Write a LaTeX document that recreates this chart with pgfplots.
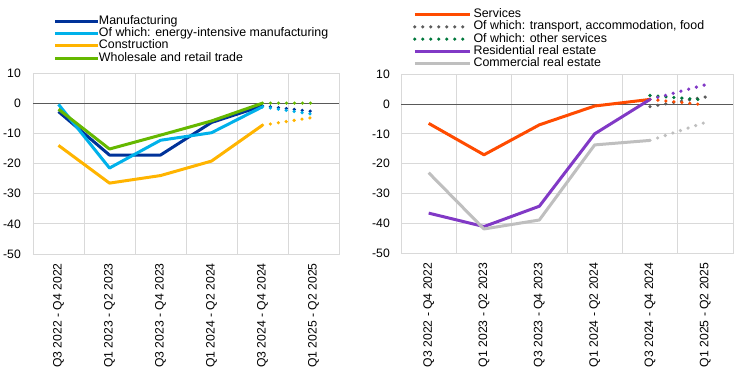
\documentclass[border=0pt]{standalone}
\usepackage{pgfplots}
\pgfplotsset{compat=1.18}
\usepackage{fontspec}
\setmainfont{Liberation Sans}
\definecolor{cManuf}{HTML}{003299}
\definecolor{cEnergy}{HTML}{00B1EA}
\definecolor{cConstr}{HTML}{FFB400}
\definecolor{cWhole}{HTML}{65B800}
\definecolor{cServ}{HTML}{FF4B00}
\definecolor{cTrans}{HTML}{5C5C5C}
\definecolor{cOther}{HTML}{00783C}
\definecolor{cResid}{HTML}{8139C6}
\definecolor{cComm}{HTML}{BFBFBF}
\definecolor{gridc}{HTML}{D9D9D9}
\definecolor{zeroc}{HTML}{595959}
\pgfplotsset{
  common/.style={
    scale only axis, xmin=-0.5, xmax=5.5, ymin=-50, ymax=10,
    xtick={0,...,5},
    xticklabels={Q3 2022 - Q4 2022, Q1 2023 - Q2 2023, Q3 2023 - Q4 2023, Q1 2024 - Q2 2024, Q3 2024 - Q4 2024, Q1 2025 - Q2 2025},
    minor xtick={0.5,1.5,2.5,3.5,4.5},
    ytick={-50,-40,...,10},
    xminorgrids=true, xmajorgrids=false, ymajorgrids=true,
    major tick length=0pt, minor tick length=0pt,
    grid style={draw=gridc, line width=0.75pt},
    minor grid style={draw=gridc, line width=0.75pt},
    axis line style={draw=gridc, line width=0.75pt},
    /pgf/number format/assume math mode=true,
    tick label style={font=\fontsize{12.2}{14}\selectfont},
    xticklabel style={rotate=90, anchor=east, inner sep=0pt},
    xticklabel shift=9pt,
    legend cell align=left,
    legend style={draw=none, fill=none, inner sep=0pt, outer sep=0pt, row sep=1.2pt,
      font=\fontsize{12.4}{14}\selectfont,
      nodes={inner sep=0pt, text height=8.6pt, text depth=2.5pt}},
    every axis plot/.append style={line width=3pt, line join=round},
  },
  dots/.style={line cap=round, line width=3.6pt, dash pattern=on 0pt off 8pt},
}
\begin{document}
\fontsize{12}{14}\selectfont
\begin{tikzpicture}
\path[use as bounding box] (0pt,0pt) rectangle (737pt,-372pt);
% Left panel
\begin{axis}[common,
  at={(33pt,-73pt)}, anchor=north west, width=306pt, height=181pt,
  yticklabel style={anchor=east, inner sep=0pt, xshift=-12pt},
  legend image code/.code={\draw[#1] (0pt,0pt) -- (43pt,0pt);},
  legend style={at={(0.0686,1.3166)}, anchor=north west, column sep=-1pt},
]
\addplot[zeroc, line width=0.75pt, forget plot] coordinates {(-0.5,0) (5.5,0)};
\addplot[cManuf] coordinates {(0,-2.8) (1,-17.2) (2,-17.2) (3,-6.4) (4,-0.9)};
\addlegendentry{Manufacturing}
\addplot[cEnergy] coordinates {(0,-0.4) (1,-21.5) (2,-12.3) (3,-9.8) (4,-1.2)};
\addlegendentry{Of which: energy-intensive manufacturing}
\addplot[cConstr] coordinates {(0,-14) (1,-26.5) (2,-24) (3,-19.2) (4,-7.3)};
\addlegendentry{Construction}
\addplot[cWhole] coordinates {(0,-2) (1,-15.2) (2,-10.6) (3,-5.9) (4,0)};
\addlegendentry{Wholesale and retail trade}
\addplot[cManuf, dots, forget plot] coordinates {(4,-0.9) (5,-2.8)};
\addplot[cEnergy, dots, forget plot] coordinates {(4,-1.2) (5,-3.7)};
\addplot[cConstr, dots, forget plot] coordinates {(4,-7.3) (5,-4.7)};
\addplot[cWhole, dots, forget plot] coordinates {(4,0) (5,0)};
\end{axis}
% Right panel
\begin{axis}[common,
  at={(401pt,-74pt)}, anchor=north west, width=332pt, height=179.5pt,
  yticklabel style={anchor=east, inner sep=0pt, xshift=-11pt},
  legend image code/.code={\draw[#1] (0pt,0pt) -- (55pt,0pt);},
  legend style={at={(0.036,1.3622)}, anchor=north west, column sep=2pt},
]
\addplot[zeroc, line width=0.75pt, forget plot] coordinates {(-0.5,0) (5.5,0)};
\addplot[cServ] coordinates {(0,-6.5) (1,-17) (2,-7) (3,-0.7) (4,1.5)};
\addlegendentry{Services}
\addplot[cTrans, dots] coordinates {(4,-0.9) (5,2.3)};
\addlegendentry{Of which: transport, accommodation, food}
\addplot[cOther, dots] coordinates {(4,2.8) (5,1.3)};
\addlegendentry{Of which: other services}
\addplot[cResid] coordinates {(0,-36.5) (1,-41) (2,-34.2) (3,-10) (4,1.5)};
\addlegendentry{Residential real estate}
\addplot[cComm] coordinates {(0,-23) (1,-41.8) (2,-38.8) (3,-13.7) (4,-12.2)};
\addlegendentry{Commercial real estate}
\addplot[cServ, dots, forget plot] coordinates {(4,1.5) (5,-0.3)};
\addplot[cResid, dots, forget plot] coordinates {(4,1.5) (5,6.4)};
\addplot[cComm, dots, forget plot] coordinates {(4,-12.2) (5,-6.2)};
\end{axis}
\end{tikzpicture}
\end{document}
